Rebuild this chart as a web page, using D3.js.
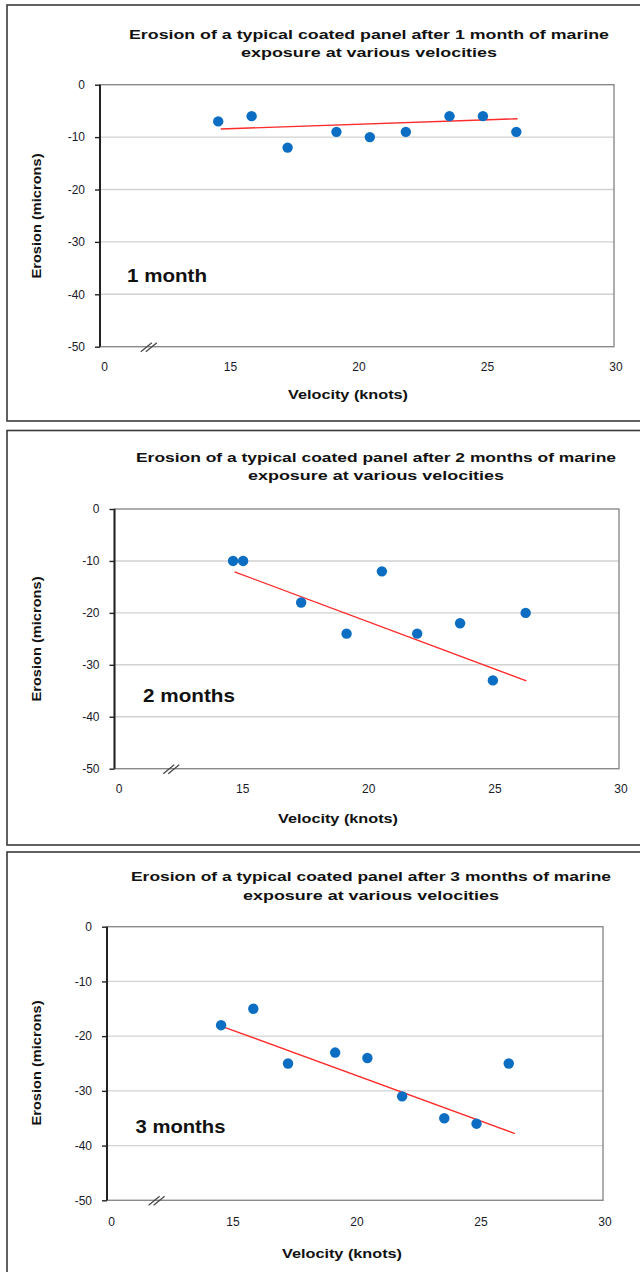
<!DOCTYPE html>
<html><head><meta charset="utf-8">
<script src="https://cdn.jsdelivr.net/npm/d3@7"></script>
<style>body{margin:0;background:#fff}svg{display:block}text{font-family:"Liberation Sans",Arial,sans-serif}</style>
</head><body><svg id="c" width="640" height="1272"></svg>
<script>
// ---- data ----
const titleLine1 = [
  "Erosion of a typical coated panel after 1 month of marine",
  "Erosion of a typical coated panel after 2 months of marine",
  "Erosion of a typical coated panel after 3 months of marine"
];
const titleLine2 = "exposure at various velocities";
const monthLabels = ["1 month", "2 months", "3 months"];
const xAxisTitle = "Velocity (knots)";
const yAxisTitle = "Erosion (microns)";
const xTickValues = [10, 15, 20, 25, 30];
const xTickLabels = ["0", "15", "20", "25", "30"];
const yTickValues = [0, -10, -20, -30, -40, -50];
const yTickLabels = ["0", "-10", "-20", "-30", "-40", "-50"];
const gridValues = [-10, -20, -30, -40];

const velocity1 = [14.6, 15.9, 17.3, 19.2, 20.5, 21.9, 23.6, 24.9, 26.2];
const erosion1  = [-7, -6, -12, -9, -10, -9, -6, -6, -9];
const velocity2 = [14.7, 15.1, 17.4, 19.2, 20.6, 22.0, 23.7, 25.0, 26.3];
const erosion2  = [-10, -10, -18, -24, -12, -24, -22, -33, -20];
const velocity3 = [14.6, 15.9, 17.3, 19.2, 20.5, 21.9, 23.6, 24.9, 26.2];
const erosion3  = [-18, -15, -25, -23, -24, -31, -35, -36, -25];

const trendX1 = [14.7, 26.25], trendY1 = [-8.45, -6.5];
const trendX2 = [14.76, 26.33], trendY2 = [-12.1, -33.1];
const trendX3 = [14.6, 26.45], trendY3 = [-18.15, -37.8];
const breakValue = [11.9, 12.25, 12.0];

// ---- layout ----
const layout = [
  {frame:[7,5,700,416], plot:[100,614,84.7,346.7], titleX:369, titleY:[34,52.5], yTitle:[37,216], xTitle:[348,395], tickY:367, month:[127,276,80]},
  {frame:[7,430.5,700,414.5], plot:[114.5,619,509,768.7], titleX:376, titleY:[457.3,475.7], yTitle:[37,639], xTitle:[338,819], tickY:789, month:[143,695.7,92]},
  {frame:[7,852,700,440], plot:[107,603,926.7,1200.3], titleX:371, titleY:[876.7,895], yTitle:[37,1063], xTitle:[342,1253.7], tickY:1222, month:[135.5,1127,90]}
];
const series = [
  {vx: velocity1, vy: erosion1, tx: trendX1, ty: trendY1},
  {vx: velocity2, vy: erosion2, tx: trendX2, ty: trendY2},
  {vx: velocity3, vy: erosion3, tx: trendX3, ty: trendY3}
];

const svg = d3.select("#c");
const FONT = '"Liberation Sans",Arial,sans-serif';

layout.forEach((L, i) => {
  const S = series[i];
  const g = svg.append("g");
  g.append("rect").attr("x", L.frame[0]).attr("y", L.frame[1]).attr("width", L.frame[2]).attr("height", L.frame[3])
    .attr("fill", "#fff").attr("stroke", "#3a3a3a").attr("stroke-width", 1.6);

  const [x0, x1, y0, y1] = L.plot;
  const x = d3.scaleLinear().domain([10, 30]).range([x0, x1]);
  const y = d3.scaleLinear().domain([0, -50]).range([y0, y1]);

  // grid
  g.selectAll("line.grid").data(gridValues).enter().append("line")
    .attr("x1", x0).attr("x2", x1).attr("y1", d => y(d)).attr("y2", d => y(d))
    .attr("stroke", "#d2d2d2").attr("stroke-width", 1.4);
  // plot border
  g.append("rect").attr("x", x0).attr("y", y0).attr("width", x1 - x0).attr("height", y1 - y0)
    .attr("fill", "none").attr("stroke", "#8a8a8a").attr("stroke-width", 1.4);

  // y axis
  const ya = g.append("g").attr("transform", `translate(${x0},0)`)
    .call(d3.axisLeft(y).tickValues(yTickValues).tickSize(5).tickPadding(10)
      .tickFormat((d, k) => yTickLabels[k]));
  ya.select(".domain").attr("stroke", "#222").attr("stroke-width", 2).attr("d", `M0,${y0}V${y1}`);
  ya.selectAll(".tick line").attr("stroke", "#222").attr("stroke-width", 1.4);
  ya.selectAll(".tick text").attr("font-size", 12).attr("fill", "#1a1a2a").attr("font-family", FONT);

  // x axis labels
  const xa = g.append("g").attr("transform", `translate(0,${y1})`)
    .call(d3.axisBottom(x).tickValues(xTickValues).tickSize(0).tickPadding(0)
      .tickFormat((d, k) => xTickLabels[k]));
  xa.select(".domain").remove();
  xa.selectAll(".tick text").attr("y", L.tickY - y1).attr("dy", "0.35em")
    .attr("dx", (d, k) => k === 0 ? 4 : 1.5)
    .attr("font-size", 12).attr("fill", "#1a1a2a").attr("font-family", FONT);

  // break marks
  const bx = x(breakValue[i]);
  [-5, 0].forEach(off => {
    g.append("line").attr("x1", bx + off - 3).attr("y1", y1 + 5).attr("x2", bx + off + 8).attr("y2", y1 - 4)
      .attr("stroke", "#444").attr("stroke-width", 1.2);
  });

  // trend line
  g.append("line")
    .attr("x1", x(S.tx[0])).attr("y1", y(S.ty[0])).attr("x2", x(S.tx[1])).attr("y2", y(S.ty[1]))
    .attr("stroke", "#ff2a2a").attr("stroke-width", 1.3);

  // points
  g.selectAll("circle.pt").data(S.vx.map((v, k) => [v, S.vy[k]])).enter().append("circle")
    .attr("cx", d => x(d[0])).attr("cy", d => y(d[1])).attr("r", 5.2).attr("fill", "#0b6ec2");

  // titles
  g.append("text").attr("x", L.titleX).attr("y", L.titleY[0]).attr("dy", "0.35em").attr("text-anchor", "middle")
    .attr("font-size", 13).attr("font-weight", "bold").attr("fill", "#111")
    .attr("textLength", 480).attr("lengthAdjust", "spacingAndGlyphs").text(titleLine1[i]);
  g.append("text").attr("x", L.titleX).attr("y", L.titleY[1]).attr("dy", "0.35em").attr("text-anchor", "middle")
    .attr("font-size", 13).attr("font-weight", "bold").attr("fill", "#111")
    .attr("textLength", 256).attr("lengthAdjust", "spacingAndGlyphs").text(titleLine2);

  // axis titles
  g.append("text").attr("transform", `translate(${L.yTitle[0]},${L.yTitle[1]}) rotate(-90)`).attr("dy", "0.35em")
    .attr("text-anchor", "middle").attr("font-size", 12).attr("font-weight", "bold").attr("fill", "#111")
    .attr("textLength", 125).attr("lengthAdjust", "spacingAndGlyphs").text(yAxisTitle);
  g.append("text").attr("x", L.xTitle[0]).attr("y", L.xTitle[1]).attr("dy", "0.35em")
    .attr("text-anchor", "middle").attr("font-size", 12).attr("font-weight", "bold").attr("fill", "#111")
    .attr("textLength", 120).attr("lengthAdjust", "spacingAndGlyphs").text(xAxisTitle);

  // month label
  g.append("text").attr("x", L.month[0]).attr("y", L.month[1]).attr("dy", "0.35em")
    .attr("font-size", 17.5).attr("font-weight", "bold").attr("fill", "#111")
    .attr("textLength", L.month[2]).attr("lengthAdjust", "spacingAndGlyphs").text(monthLabels[i]);
});
</script></body></html>
